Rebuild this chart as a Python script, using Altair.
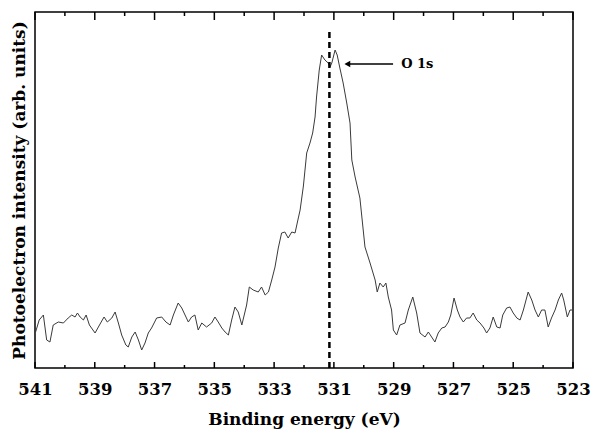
import altair as alt
import pandas as pd

energy = [540.98, 540.86, 540.72, 540.61, 540.50, 540.39, 540.22, 540.05, 539.89, 539.77,
          539.66, 539.58, 539.49, 539.38, 539.29, 539.18, 538.99, 538.88, 538.69, 538.58,
          538.43, 538.32, 538.21, 538.10, 537.96, 537.88, 537.76, 537.65, 537.54, 537.43,
          537.32, 537.21, 537.10, 536.93, 536.76, 536.62, 536.48, 536.37, 536.21, 536.09,
          535.98, 535.87, 535.76, 535.65, 535.54, 535.42, 535.26, 535.09, 534.98, 534.87,
          534.75, 534.64, 534.53, 534.42, 534.31, 534.20, 534.08, 533.92, 533.83, 533.70,
          533.53, 533.42, 533.30, 533.19, 533.08, 532.97, 532.86, 532.75, 532.64, 532.53,
          532.41, 532.30, 532.19, 532.13, 532.02, 531.91, 531.80, 531.71, 531.63, 531.58,
          531.49, 531.41, 531.30, 531.19, 531.13, 531.07, 530.96, 530.89, 530.80, 530.69,
          530.57, 530.46, 530.40, 530.29, 530.13, 529.96, 529.79, 529.62, 529.55, 529.46,
          529.35, 529.26, 529.18, 529.07, 529.01, 528.90, 528.79, 528.62, 528.51, 528.36,
          528.23, 528.12, 527.95, 527.84, 527.73, 527.62, 527.51, 527.39, 527.28, 527.17,
          527.09, 526.98, 526.87, 526.78, 526.67, 526.56, 526.45, 526.34, 526.22, 526.11,
          525.98, 525.89, 525.78, 525.67, 525.55, 525.44, 525.35, 525.22, 525.11, 525.00,
          524.88, 524.77, 524.66, 524.50, 524.38, 524.27, 524.16, 524.05, 523.94, 523.83,
          523.72, 523.60, 523.49, 523.38, 523.31, 523.19, 523.10, 523.02]
intensity = [36, 48, 53, 28, 26, 43, 46, 45, 50, 53,
             51, 55, 51, 48, 53, 43, 35, 41, 51, 46,
             50, 56, 45, 33, 23, 21, 31, 36, 28, 18,
             25, 35, 40, 50, 51, 46, 43, 53, 65, 60,
             53, 46, 51, 53, 38, 45, 41, 45, 51, 46,
             40, 36, 33, 48, 61, 56, 43, 63, 81, 78,
             76, 81, 73, 76, 88, 101, 120, 135, 136, 130,
             136, 135, 150, 158, 182, 215, 225, 235, 251, 271,
             298, 313, 308, 305, 301, 305, 318, 313, 300, 285,
             265, 245, 208, 191, 170, 121, 105, 88, 76, 85,
             81, 85, 71, 58, 38, 33, 43, 45, 58, 71,
             55, 35, 31, 36, 31, 26, 35, 40, 41, 46,
             53, 70, 58, 51, 46, 50, 50, 55, 48, 45,
             40, 35, 40, 51, 41, 40, 53, 60, 61, 55,
             50, 48, 58, 76, 68, 58, 51, 58, 58, 41,
             50, 58, 68, 75, 68, 51, 58, 58]

major_ticks = [541, 539, 537, 535, 533, 531, 529, 527, 525, 523]
minor_ticks = [540, 538, 536, 534, 532, 530, 528, 526, 524]

peak_energy = 531.15
peak_label = "O 1s"
arrow_tail = 529.02
arrow_head = 530.55
arrow_level = 304
text_energy = 528.75

FONT = "DejaVu Serif"
W, H = 538, 356
Y_TOP = 356

xscale = alt.Scale(domain=[523, 541], reverse=True, nice=False, zero=False)
yscale = alt.Scale(domain=[0, Y_TOP], nice=False, zero=True)

xaxis = alt.Axis(values=major_ticks, format="d", ticks=False, domain=False, grid=False,
                 labelFont=FONT, labelFontWeight="bold", labelFontSize=16.5,
                 labelColor="black", labelPadding=13, labelFlush=False,
                 title="Binding energy (eV)", titleFont=FONT, titleFontWeight="bold",
                 titleFontSize=17, titleColor="black", titlePadding=14, titleLimit=600)
yaxis = alt.Axis(labels=False, ticks=False, domain=False, grid=False,
                 title="Photoelectron intensity (arb. units)", titleFont=FONT,
                 titleFontWeight="bold", titleFontSize=17, titleColor="black",
                 titlePadding=7, titleLimit=600)

X = alt.X("e:Q", scale=xscale, axis=xaxis, title="Binding energy (eV)")
Y = alt.Y("i:Q", scale=yscale, axis=yaxis, title="Photoelectron intensity (arb. units)")

df = pd.DataFrame({"e": energy, "i": intensity})

line = alt.Chart(df).mark_line(color="#3a3a3a", strokeWidth=1).encode(x=X, y=Y)

dash = alt.Chart(pd.DataFrame({"e": [peak_energy], "i": [0], "i2": [340]})).mark_rule(
    color="black", strokeWidth=2.5, strokeDash=[6, 4]
).encode(x=X, y=Y, y2="i2:Q")

arrow = alt.Chart(pd.DataFrame({"e": [arrow_tail], "e2": [arrow_head], "i": [arrow_level]})).mark_rule(
    color="black", strokeWidth=1.5
).encode(x=X, x2="e2:Q", y=Y)

head = alt.Chart(pd.DataFrame({"e": [arrow_head], "i": [arrow_level]})).mark_point(
    shape="triangle-left", filled=True, color="black", size=45, opacity=1
).encode(x=X, y=Y)

label = alt.Chart(pd.DataFrame({"e": [text_energy], "i": [arrow_level], "t": [peak_label]})).mark_text(
    align="left", baseline="middle", font=FONT, fontWeight="bold", fontSize=13, color="black"
).encode(x=X, y=Y, text="t:N")

def ticks(vals, a, b):
    return alt.Chart(pd.DataFrame({"e": vals})).mark_rule(
        color="black", strokeWidth=1.5, opacity=1
    ).encode(x=X, y=alt.datum(a, scale=yscale), y2=alt.datum(b))

tick_layers = [
    ticks(major_ticks, 0, 6), ticks(minor_ticks, 0, 3),
    ticks(major_ticks, Y_TOP, Y_TOP - 8), ticks(minor_ticks, Y_TOP, Y_TOP - 4),
]

chart = alt.layer(line, dash, arrow, head, label, *tick_layers).properties(
    width=W, height=H,
    autosize=alt.AutoSizeParams(type="none"),
    padding={"left": 35, "top": 12, "right": 19, "bottom": 64},
    background="white",
).configure_view(stroke="black", strokeWidth=1.5)

chart.save("out.html", embed_options={"renderer": "svg", "actions": False})
